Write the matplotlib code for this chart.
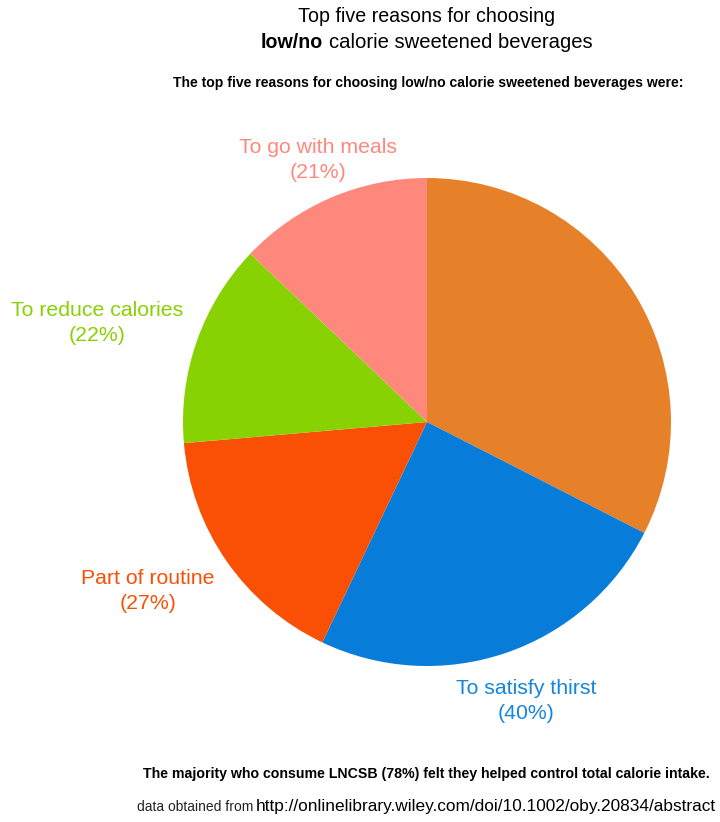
import matplotlib.pyplot as plt

# slices clockwise from 12 o'clock
reasons = ["", "To satisfy thirst", "Part of routine", "To reduce calories", "To go with meals"]
values = [53, 40, 27, 22, 21]
colors = ["#E6812A", "#077CD8", "#FA5005", "#88D203", "#FF887C"]
label_colors = ["#E6812A", "#1585DD", "#FA5005", "#88D203", "#FF887C"]

plt.rcParams["font.family"] = ["Liberation Sans", "DejaVu Sans"]

W, H = 720, 822
fig = plt.figure(figsize=(W / 100, H / 100), dpi=100)

# pie centre and radius in pixels
cx, cy, r = 427, 422, 244
ax = fig.add_axes([(cx - r) / W, (H - cy - r) / H, 2 * r / W, 2 * r / H])
wedges, _ = ax.pie(values, colors=colors, startangle=90, counterclock=False,
                   wedgeprops=dict(linewidth=0))
for w in wedges:
    w.set_clip_on(False)
ax.set_xlim(-1, 1)
ax.set_ylim(-1, 1)
ax.axis("off")


def px(x, y):
    return x / W, 1 - y / H


# label positions (pixels, top-left origin)
label_pos = [None, (526, 701), (148, 591), (97, 323), (318, 160)]
for name, v, c, pos in zip(reasons, values, label_colors, label_pos):
    if pos is None:
        continue
    fig.text(*px(*pos), f"{name}\n({v}%)", color=c, fontsize=15.3,
             ha="center", va="center", linespacing=1.35)

# titles
fig.text(*px(427, 17), "Top five reasons for choosing", fontsize=14.1,
         ha="center", va="center")
fig.text(*px(323, 42), "low/no", fontsize=14.1, fontweight="bold",
         ha="right", va="center")
fig.text(*px(329, 42), "calorie sweetened beverages", fontsize=14.6,
         ha="left", va="center")
fig.text(*px(428, 83),
         "The top five reasons for choosing low/no calorie sweetened beverages were:",
         fontsize=10.05, fontweight="bold", ha="center", va="center")

# footer
fig.text(*px(710, 774),
         "The majority who consume LNCSB (78%) felt they helped control total calorie intake.",
         fontsize=10.15, fontweight="bold", ha="right", va="center")
fig.text(*px(716, 806), "http://onlinelibrary.wiley.com/doi/10.1002/oby.20834/abstract",
         fontsize=12.4, ha="right", va="center")
fig.text(*px(253, 807), "data obtained from", fontsize=10, color="#222222",
         ha="right", va="center")

plt.savefig("out.png", dpi=100)
